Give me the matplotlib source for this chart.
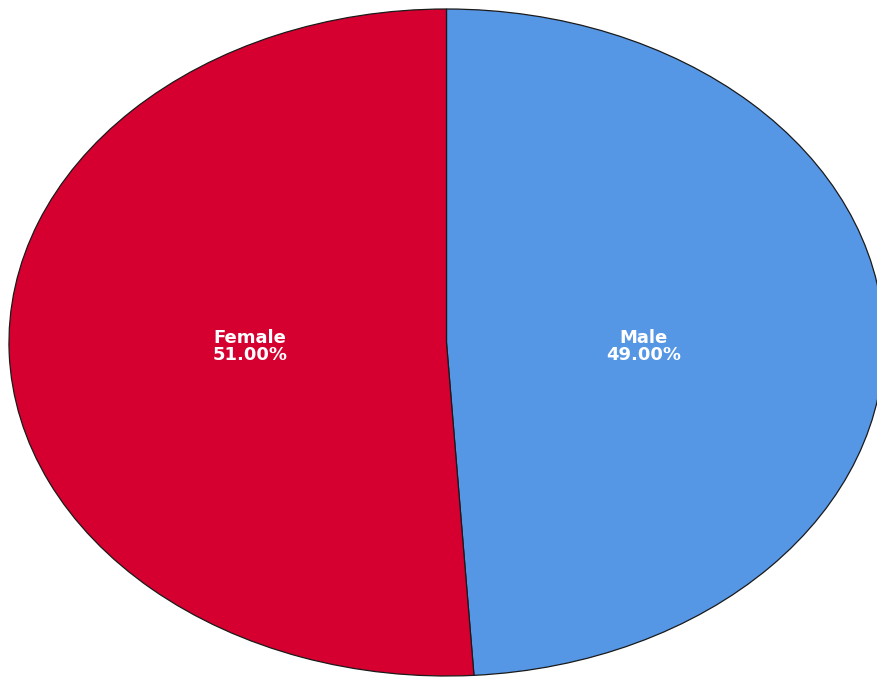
import matplotlib
matplotlib.use("Agg")
import matplotlib.pyplot as plt

# gender split of respondents (percent)
genders = ["Male", "Female"]
shares = [49.0, 51.0]
colors = ["#5596E5", "#D5002F"]

fig = plt.figure(figsize=(8.77, 6.77), dpi=100)
ax = fig.add_axes([0, 0, 1, 1])

wedges, texts, autotexts = ax.pie(
    shares,
    colors=colors,
    startangle=90,
    counterclock=False,
    autopct="%.2f%%",
    pctdistance=0.45,
    wedgeprops=dict(edgecolor="#1a1a1a", linewidth=0.9),
    textprops=dict(color="white", fontweight="bold", fontsize=13,
                   family="DejaVu Sans"),
)
for t, name in zip(autotexts, genders):
    t.set_text(f"{name}\n{t.get_text()}")
    t.set_linespacing(0.95)
    # keep both labels on the same line across the pie
    t.set_y(-0.012)

# stretch the pie into the wide oval
ax.set_aspect("auto")
ax.set_xlim(-1.0205, 0.984)
ax.set_ylim(-1.003, 1.027)
ax.axis("off")

fig.savefig("out.png", dpi=100)
